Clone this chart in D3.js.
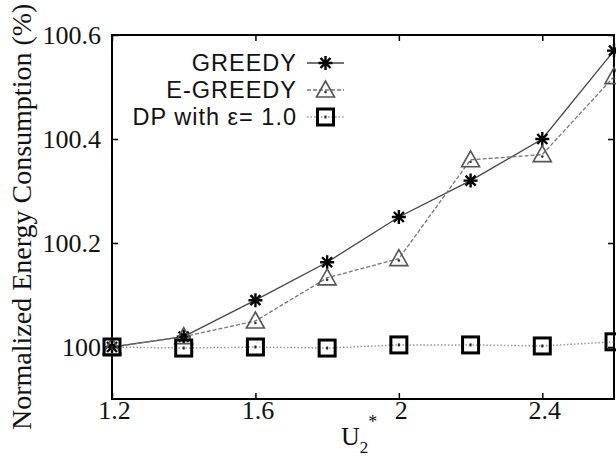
<!DOCTYPE html>
<html>
<head>
<meta charset="utf-8">
<script src="https://cdn.jsdelivr.net/npm/d3@7"></script>
<style>
  body { margin: 0; background: #fff; }
  svg { display: block; }
</style>
</head>
<body>
<div id="drawarea"></div>
<script>
// x values (U2*) and the three series
let uValues = [1.2, 1.4, 1.6, 1.8, 2.0, 2.2, 2.4, 2.6];
let greedy = [100.0, 100.02, 100.09, 100.163, 100.25, 100.32, 100.40, 100.57];
let eGreedy = [100.0, 100.02, 100.05, 100.133, 100.17, 100.36, 100.37, 100.52];
let dp = [100.0, 99.998, 100.0, 99.998, 100.004, 100.004, 100.002, 100.01];
let xTicks = [1.2, 1.6, 2, 2.4];
let yTicks = [100, 100.2, 100.4, 100.6];
let yTickLabels = ["100", "100.2", "100.4", "100.6"];
let seriesNames = ["GREEDY", "E-GREEDY", "DP with \u03b5= 1.0"];

let W = 616, H = 462;
let svg = d3.select("div#drawarea").append("svg")
    .attr("width", W)
    .attr("height", H);

let plotLeft = 112, plotRight = 614, plotTop = 35, plotBottom = 399;

let x = d3.scaleLinear().domain([1.2, 2.6]).range([plotLeft, plotRight]);
let y = d3.scaleLinear().domain([99.9, 100.6]).range([plotBottom, plotTop]);

let serif = "'Liberation Serif', 'Times New Roman', serif";
let sans = "'Liberation Sans', Arial, sans-serif";

// axes: ticks pointing inwards
let xAxis = svg.append("g").attr("transform", "translate(0," + plotBottom + ")")
    .call(d3.axisBottom(x).tickValues(xTicks).tickSize(-6).tickFormat(d3.format("")));
let xAxisTop = svg.append("g").attr("transform", "translate(0," + plotTop + ")")
    .call(d3.axisTop(x).tickValues(xTicks).tickSize(-6).tickFormat(""));
let yAxis = svg.append("g").attr("transform", "translate(" + plotLeft + ",0)")
    .call(d3.axisLeft(y).tickValues(yTicks).tickSize(-6)
        .tickFormat((d, i) => yTickLabels[i]));
let yAxisRight = svg.append("g").attr("transform", "translate(" + plotRight + ",0)")
    .call(d3.axisRight(y).tickValues(yTicks).tickSize(-6).tickFormat(""));

[xAxis, xAxisTop, yAxis, yAxisRight].forEach(a => {
    a.select(".domain").remove();
    a.selectAll(".tick line").attr("stroke", "#000").attr("stroke-width", 1.5);
});
xAxis.selectAll(".tick text")
    .attr("font-family", serif).attr("font-size", 26).attr("fill", "#111")
    .attr("x", 2).attr("y", 2).attr("dy", "0.7em");
yAxis.selectAll(".tick text")
    .attr("font-family", serif).attr("font-size", 26).attr("fill", "#111")
    .attr("x", -11).attr("dy", "0.33em");

// frame
svg.append("rect")
    .attr("x", plotLeft).attr("y", plotTop)
    .attr("width", plotRight - plotLeft).attr("height", plotBottom - plotTop)
    .attr("fill", "none").attr("stroke", "#000").attr("stroke-width", 2);

// axis titles
svg.append("text")
    .attr("transform", "translate(31,430) rotate(-90)")
    .attr("font-family", serif).attr("font-size", 28).attr("fill", "#111")
    .text("Normalized Energy Consumption (%)");

let xt = svg.append("text")
    .attr("x", 341).attr("y", 445)
    .attr("font-family", serif).attr("font-size", 26).attr("fill", "#111");
xt.append("tspan").text("U");
xt.append("tspan").attr("font-size", 17).attr("dy", 8).text("2");
xt.append("tspan").attr("font-size", 18).attr("dy", -25).attr("dx", 0).text("*");

// lines
let line = d3.line().x((d, i) => x(uValues[i])).y(d => y(d));

let styles = [
    {data: greedy, stroke: "#444", dash: null, width: 1.3},
    {data: eGreedy, stroke: "#777", dash: "4,2", width: 1.3},
    {data: dp, stroke: "#999", dash: "1.5,2", width: 1.5}
];

styles.forEach(s => {
    svg.append("path")
        .datum(s.data)
        .attr("d", line)
        .attr("fill", "none")
        .attr("stroke", s.stroke)
        .attr("stroke-width", s.width)
        .attr("stroke-dasharray", s.dash);
});

// marker drawing helpers
function drawStar(g, cx, cy) {
    let r = 7;
    g.append("path")
        .attr("d", "M" + (cx - r) + "," + cy + "H" + (cx + r) +
            "M" + cx + "," + (cy - r) + "V" + (cy + r) +
            "M" + (cx - 5) + "," + (cy - 5) + "L" + (cx + 5) + "," + (cy + 5) +
            "M" + (cx - 5) + "," + (cy + 5) + "L" + (cx + 5) + "," + (cy - 5))
        .attr("stroke", "#000").attr("stroke-width", 2.4).attr("fill", "none");
}
function drawTriangle(g, cx, cy) {
    g.append("path")
        .attr("d", "M" + cx + "," + (cy - 9) + "L" + (cx + 9) + "," + (cy + 7) +
            "L" + (cx - 9) + "," + (cy + 7) + "Z")
        .attr("stroke", "#555").attr("stroke-width", 1.6).attr("fill", "none");
    g.append("circle").attr("cx", cx).attr("cy", cy + 2).attr("r", 1.3).attr("fill", "#333");
}
function drawSquare(g, cx, cy) {
    g.append("rect")
        .attr("x", cx - 8).attr("y", cy - 8).attr("width", 16).attr("height", 16)
        .attr("stroke", "#000").attr("stroke-width", 3).attr("fill", "none");
    g.append("rect").attr("x", cx - 1).attr("y", cy - 1.5).attr("width", 2).attr("height", 3).attr("fill", "#222");
}
let drawers = [drawStar, drawTriangle, drawSquare];

let markers = svg.append("g");
styles.forEach((s, k) => {
    s.data.forEach((v, i) => {
        drawers[k](markers, x(uValues[i]), y(v));
    });
});

// legend
let legend = svg.append("g");
seriesNames.forEach((name, k) => {
    let ly = 63 + k * 27;
    legend.append("text")
        .attr("x", 297).attr("y", ly).attr("dy", "0.35em")
        .attr("text-anchor", "end")
        .attr("font-family", sans).attr("font-size", 23.5).attr("letter-spacing", 1)
        .attr("fill", "#111")
        .text(name);
    legend.append("line")
        .attr("x1", 307).attr("x2", 344).attr("y1", ly).attr("y2", ly)
        .attr("stroke", styles[k].stroke).attr("stroke-width", styles[k].width)
        .attr("stroke-dasharray", styles[k].dash);
    drawers[k](legend, 325.5, ly);
});
</script>
</body>
</html>
